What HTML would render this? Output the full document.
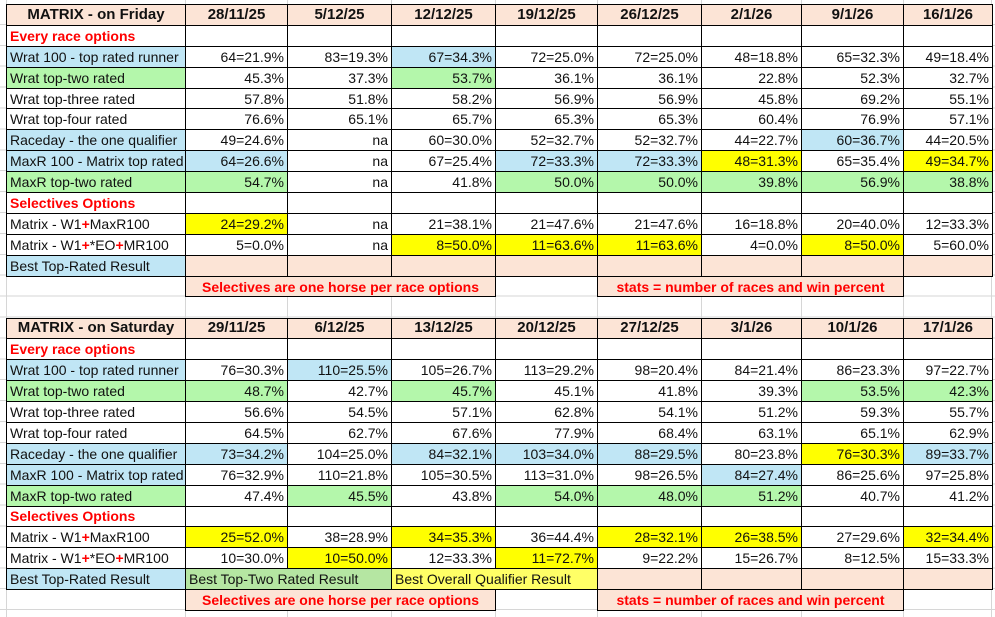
<!DOCTYPE html>
<html><head><meta charset="utf-8"><style>
*{margin:0;padding:0;box-sizing:border-box}
body{width:995px;height:617px;overflow:hidden;background:#fff;position:relative;font-family:"Liberation Sans",Arial,sans-serif;}
.grid{position:absolute;left:0;top:0;width:995px;height:617px;
background-image:repeating-linear-gradient(to bottom,transparent 0,transparent 19.9px,#d6d6d6 19.9px,#d6d6d6 20.9px);background-position:0 4px;}
.v{position:absolute;top:0;height:617px;width:1px;background:#d6d6d6}
table{position:absolute;left:6px;border-collapse:collapse;table-layout:fixed;width:986px;font-size:14px;color:#111}
td{border:1px solid #000;height:20.9px;padding:0 3px;text-align:right;white-space:nowrap;overflow:hidden;line-height:18px;background:#fff}
tr.h td{background:#fce4d6;text-align:center;font-weight:bold;font-size:15px}
td.l{text-align:left;padding-left:3px}
td.r{color:#f00;font-weight:bold;text-align:left}
.B{background:#c0e6f5}.G{background:#b4f7ab}.Y{background:#ffff00}.P{background:#fce4d6}
.G2{background:#b5e6a2}.Y2{background:#ffff66}
td.n{border:none;background:transparent}
td.note{background:#fce4d6;color:#f00;font-weight:bold;text-align:center}
.p{color:#f00;font-weight:bold}
</style></head><body>
<div class="grid"></div>
<div class="v" style="left:6px"></div><div class="v" style="left:185px"></div><div class="v" style="left:287px"></div><div class="v" style="left:391px"></div><div class="v" style="left:495px"></div><div class="v" style="left:597px"></div><div class="v" style="left:701px"></div><div class="v" style="left:801px"></div><div class="v" style="left:903px"></div><div class="v" style="left:991px"></div>

<table style="top:4px">
<colgroup><col style="width:179px"><col style="width:102px"><col style="width:104px"><col style="width:104px"><col style="width:102px"><col style="width:104px"><col style="width:100px"><col style="width:102px"><col style="width:89px"></colgroup>
<tr class="h"><td>MATRIX - on Friday</td><td>28/11/25</td><td>5/12/25</td><td>12/12/25</td><td>19/12/25</td><td>26/12/25</td><td>2/1/26</td><td>9/1/26</td><td>16/1/26</td></tr>
<tr><td class="r">Every race options</td><td></td><td></td><td></td><td></td><td></td><td></td><td></td><td></td></tr>
<tr><td class="l B">Wrat 100 - top rated runner</td><td>64=21.9%</td><td>83=19.3%</td><td class="B">67=34.3%</td><td>72=25.0%</td><td>72=25.0%</td><td>48=18.8%</td><td>65=32.3%</td><td>49=18.4%</td></tr>
<tr><td class="l G">Wrat top-two rated</td><td>45.3%</td><td>37.3%</td><td class="G">53.7%</td><td>36.1%</td><td>36.1%</td><td>22.8%</td><td>52.3%</td><td>32.7%</td></tr>
<tr><td class="l">Wrat top-three rated</td><td>57.8%</td><td>51.8%</td><td>58.2%</td><td>56.9%</td><td>56.9%</td><td>45.8%</td><td>69.2%</td><td>55.1%</td></tr>
<tr><td class="l">Wrat top-four rated</td><td>76.6%</td><td>65.1%</td><td>65.7%</td><td>65.3%</td><td>65.3%</td><td>60.4%</td><td>76.9%</td><td>57.1%</td></tr>
<tr><td class="l B">Raceday - the one qualifier</td><td>49=24.6%</td><td>na</td><td>60=30.0%</td><td>52=32.7%</td><td>52=32.7%</td><td>44=22.7%</td><td class="B">60=36.7%</td><td>44=20.5%</td></tr>
<tr><td class="l B">MaxR 100 - Matrix top rated</td><td class="B">64=26.6%</td><td>na</td><td>67=25.4%</td><td class="B">72=33.3%</td><td class="B">72=33.3%</td><td class="Y">48=31.3%</td><td>65=35.4%</td><td class="Y">49=34.7%</td></tr>
<tr><td class="l G">MaxR top-two rated</td><td class="G">54.7%</td><td>na</td><td>41.8%</td><td class="G">50.0%</td><td class="G">50.0%</td><td class="G">39.8%</td><td class="G">56.9%</td><td class="G">38.8%</td></tr>
<tr><td class="r">Selectives Options</td><td></td><td></td><td></td><td></td><td></td><td></td><td></td><td></td></tr>
<tr><td class="l">Matrix - W1<span class="p">+</span>MaxR100</td><td class="Y">24=29.2%</td><td>na</td><td>21=38.1%</td><td>21=47.6%</td><td>21=47.6%</td><td>16=18.8%</td><td>20=40.0%</td><td>12=33.3%</td></tr>
<tr><td class="l">Matrix - W1<span class="p">+</span>*EO<span class="p">+</span>MR100</td><td>5=0.0%</td><td>na</td><td class="Y">8=50.0%</td><td class="Y">11=63.6%</td><td class="Y">11=63.6%</td><td>4=0.0%</td><td class="Y">8=50.0%</td><td>5=60.0%</td></tr>
<tr><td class="l B">Best Top-Rated Result</td><td class="P"></td><td class="P"></td><td class="P"></td><td class="P"></td><td class="P"></td><td class="P"></td><td class="P"></td><td class="P"></td></tr>
<tr><td class="n"></td><td class="note" colspan="3">Selectives are one horse per race options</td><td class="n"></td><td class="note" colspan="3">stats = number of races and win percent</td><td class="n"></td></tr>
</table>

<table style="top:317.5px">
<colgroup><col style="width:179px"><col style="width:102px"><col style="width:104px"><col style="width:104px"><col style="width:102px"><col style="width:104px"><col style="width:100px"><col style="width:102px"><col style="width:89px"></colgroup>
<tr class="h"><td>MATRIX - on Saturday</td><td>29/11/25</td><td>6/12/25</td><td>13/12/25</td><td>20/12/25</td><td>27/12/25</td><td>3/1/26</td><td>10/1/26</td><td>17/1/26</td></tr>
<tr><td class="r">Every race options</td><td></td><td></td><td></td><td></td><td></td><td></td><td></td><td></td></tr>
<tr><td class="l B">Wrat 100 - top rated runner</td><td>76=30.3%</td><td class="B">110=25.5%</td><td>105=26.7%</td><td>113=29.2%</td><td>98=20.4%</td><td>84=21.4%</td><td>86=23.3%</td><td>97=22.7%</td></tr>
<tr><td class="l G">Wrat top-two rated</td><td class="G">48.7%</td><td>42.7%</td><td class="G">45.7%</td><td>45.1%</td><td>41.8%</td><td>39.3%</td><td class="G">53.5%</td><td class="G">42.3%</td></tr>
<tr><td class="l">Wrat top-three rated</td><td>56.6%</td><td>54.5%</td><td>57.1%</td><td>62.8%</td><td>54.1%</td><td>51.2%</td><td>59.3%</td><td>55.7%</td></tr>
<tr><td class="l">Wrat top-four rated</td><td>64.5%</td><td>62.7%</td><td>67.6%</td><td>77.9%</td><td>68.4%</td><td>63.1%</td><td>65.1%</td><td>62.9%</td></tr>
<tr><td class="l B">Raceday - the one qualifier</td><td class="B">73=34.2%</td><td>104=25.0%</td><td class="B">84=32.1%</td><td class="B">103=34.0%</td><td class="B">88=29.5%</td><td>80=23.8%</td><td class="Y">76=30.3%</td><td class="B">89=33.7%</td></tr>
<tr><td class="l B">MaxR 100 - Matrix top rated</td><td>76=32.9%</td><td>110=21.8%</td><td>105=30.5%</td><td>113=31.0%</td><td>98=26.5%</td><td class="B">84=27.4%</td><td>86=25.6%</td><td>97=25.8%</td></tr>
<tr><td class="l G">MaxR top-two rated</td><td>47.4%</td><td class="G">45.5%</td><td>43.8%</td><td class="G">54.0%</td><td class="G">48.0%</td><td class="G">51.2%</td><td>40.7%</td><td>41.2%</td></tr>
<tr><td class="r">Selectives Options</td><td></td><td></td><td></td><td></td><td></td><td></td><td></td><td></td></tr>
<tr><td class="l">Matrix - W1<span class="p">+</span>MaxR100</td><td class="Y">25=52.0%</td><td>38=28.9%</td><td class="Y">34=35.3%</td><td>36=44.4%</td><td class="Y">28=32.1%</td><td class="Y">26=38.5%</td><td>27=29.6%</td><td class="Y">32=34.4%</td></tr>
<tr><td class="l">Matrix - W1<span class="p">+</span>*EO<span class="p">+</span>MR100</td><td>10=30.0%</td><td class="Y">10=50.0%</td><td>12=33.3%</td><td class="Y">11=72.7%</td><td>9=22.2%</td><td>15=26.7%</td><td>8=12.5%</td><td>15=33.3%</td></tr>
<tr><td class="l B">Best Top-Rated Result</td><td class="l G2" colspan="2">Best Top-Two Rated Result</td><td class="l Y2" colspan="2">Best Overall Qualifier Result</td><td class="P"></td><td class="P"></td><td class="P"></td><td class="P"></td></tr>
<tr><td class="n"></td><td class="note" colspan="3">Selectives are one horse per race options</td><td class="n"></td><td class="note" colspan="3">stats = number of races and win percent</td><td class="n"></td></tr>
</table>
</body></html>
